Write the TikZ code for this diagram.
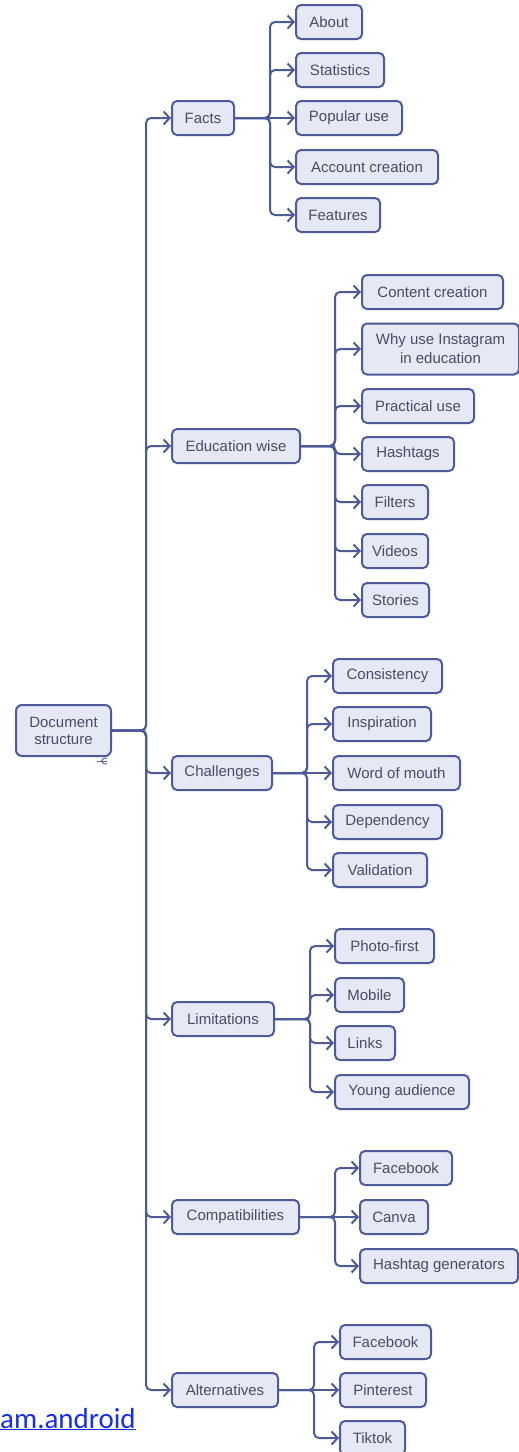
\documentclass[tikz,border=0pt]{standalone}
\usepackage{fontspec}
\setmainfont{Liberation Sans}
\usetikzlibrary{arrows.meta}
\definecolor{edge}{HTML}{4F5A9A}
\definecolor{boxfill}{HTML}{E6E8F6}
\definecolor{txt}{HTML}{4A4E5C}
\definecolor{linkblue}{HTML}{1530E6}
\tikzset{
  box/.style={draw=edge, fill=boxfill, line width=2pt, rounded corners=5pt,
    minimum height=34pt, inner sep=0pt, anchor=west, text=txt,
    font=\fontsize{15}{17}\selectfont, align=center},
  conn/.style={draw=edge, line width=2pt, rounded corners=5pt,
    -{Straight Barb[length=6pt,width=13pt,line width=2pt]}},
}
\begin{document}
\begin{tikzpicture}[x=1pt,y=-1pt]
\useasboundingbox (0,0) rectangle (519,1452);
\fill[white] (0,0) rectangle (519,1452);
% root
\node[box, minimum width=95pt, minimum height=51pt, rounded corners=6pt] (root) at (15,730.5) {Document\\structure};
% level 1
\node[box, minimum width=62pt]  (facts) at (171,118) {Facts};
\node[box, minimum width=128pt] (edu)   at (171,446) {Education wise};
\node[box, minimum width=100pt] (chal)  at (171,773) {Challenges};
\node[box, minimum width=102pt] (lim)   at (171,1019) {Limitations};
\node[box, minimum width=127pt] (comp)  at (171,1217) {Compatibilities};
\node[box, minimum width=106pt] (alt)   at (171,1390) {Alternatives};
% facts children
\node[box, minimum width=66pt]  (about) at (295,22)  {About};
\node[box, minimum width=88pt]  (stat)  at (295,70)  {Statistics};
\node[box, minimum width=106pt] (pop)   at (295,118) {Popular use};
\node[box, minimum width=142pt] (acc)   at (295,167) {Account creation};
\node[box, minimum width=84pt]  (feat)  at (295,215) {Features};
% education children
\node[box, minimum width=141pt] (cont)  at (361,292) {Content creation};
\node[box, minimum width=157pt, minimum height=51pt, font=\fontsize{15}{19}\selectfont] (why) at (361,349) {Why use Instagram\\in education};
\node[box, minimum width=112pt] (prac)  at (361,406) {Practical use};
\node[box, minimum width=92pt]  (hash)  at (361,454) {Hashtags};
\node[box, minimum width=66pt]  (filt)  at (361,502) {Filters};
\node[box, minimum width=66pt]  (vid)   at (361,551) {Videos};
\node[box, minimum width=67pt]  (stor)  at (361,600) {Stories};
% challenges children
\node[box, minimum width=109pt] (cons)  at (332,676) {Consistency};
\node[box, minimum width=98pt]  (insp)  at (332,724) {Inspiration};
\node[box, minimum width=127pt] (word)  at (332,773) {Word of mouth};
\node[box, minimum width=109pt] (dep)   at (332,822) {Dependency};
\node[box, minimum width=94pt]  (val)   at (332,870) {Validation};
% limitations children
\node[box, minimum width=99pt]  (photo) at (334,946)  {Photo-first};
\node[box, minimum width=69pt]  (mob)   at (334,995)  {Mobile};
\node[box, minimum width=60pt]  (links) at (334,1043) {Links};
\node[box, minimum width=134pt] (young) at (334,1092) {Young audience};
% compatibilities children
\node[box, minimum width=92pt]  (fb1)   at (359,1168) {Facebook};
\node[box, minimum width=68pt]  (canva) at (359,1217) {Canva};
\node[box, minimum width=158pt] (hgen)  at (359,1266) {Hashtag generators};
% alternatives children
\node[box, minimum width=91pt]  (fb2)   at (339,1342) {Facebook};
\node[box, minimum width=86pt]  (pin)   at (339,1390) {Pinterest};
\node[box, minimum width=65pt]  (tik)   at (339,1438) {Tiktok};
% connectors
\foreach \c in {facts,edu,chal,lim,comp,alt}
  \draw[conn] (root.east) -- ++(34,0) |- (\c.west);
\foreach \c in {about,stat,acc,feat}
  \draw[conn] (facts.east) -- ++(35,0) |- (\c.west);
\draw[conn] (facts.east) -- (pop.west);
\foreach \c in {cont,why,prac,hash,filt,vid,stor}
  \draw[conn] (edu.east) -- ++(34,0) |- (\c.west);
\foreach \c in {cons,insp,dep,val}
  \draw[conn] (chal.east) -- ++(34,0) |- (\c.west);
\draw[conn] (chal.east) -- (word.west);
\foreach \c in {photo,mob,links,young}
  \draw[conn] (lim.east) -- ++(35,0) |- (\c.west);
\foreach \c in {fb1,hgen}
  \draw[conn] (comp.east) -- ++(35,0) |- (\c.west);
\draw[conn] (comp.east) -- (canva.west);
\foreach \c in {fb2,tik}
  \draw[conn] (alt.east) -- ++(35,0) |- (\c.west);
\draw[conn] (alt.east) -- (pin.west);
% small mark under root
\draw[edge!80!gray, line width=1pt] (107,758) .. controls (100,757.5) and (100,764.5) .. (107,764);
\draw[edge!80!gray, line width=1pt] (97,761) -- (107,761);
% stray link text
\node[anchor=base west, inner sep=0pt, text=linkblue, font=\fontspec{Carlito}\fontsize{29}{32}\selectfont] (lnk) at (0,1428) {\underline{am.android}};
\end{tikzpicture}
\end{document}
